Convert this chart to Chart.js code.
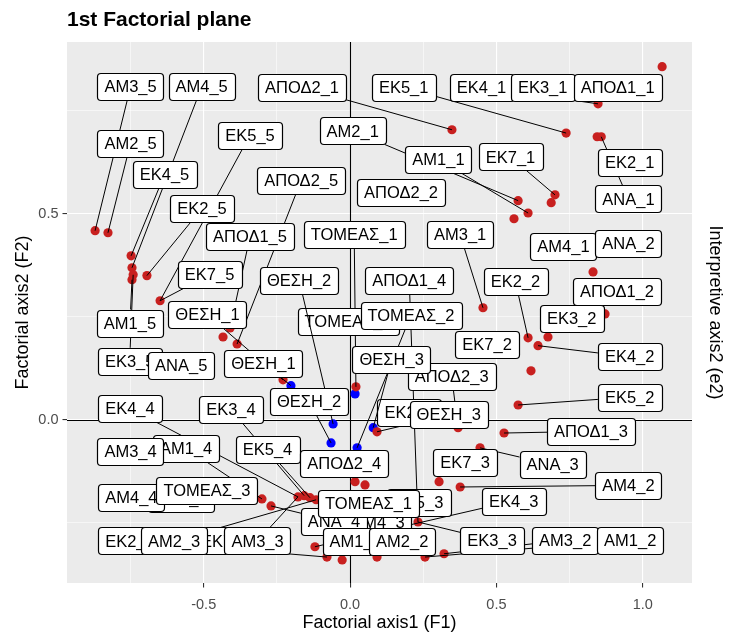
<!DOCTYPE html>
<html>
<head>
<meta charset="utf-8">
<script src="https://cdn.jsdelivr.net/npm/chart.js@4.4.0/dist/chart.umd.min.js"></script>
<style>
  html, body { margin: 0; padding: 0; background: #fff; }
</style>
</head>
<body>
<canvas id="plane" width="729" height="636"></canvas>
<script>
// factor coordinates of the categories (red = active, blue = supplementary)
const redX = [1.066, 0.847, 0.738, 0.844, 0.858, 0.700, 0.687, 0.574, 0.608, 0.560,
  0.348, -0.871, -0.827, -0.748, -0.745, -0.741, -0.745, -0.694, -0.649, -0.410,
  -0.434, -0.386, -0.229, 0.020, 0.454, 0.830, 0.871, 0.608, 0.642, 0.676,
  0.618, 0.574, 0.526, 0.092, 0.369, 0.444, 0.017, 0.051, 0.304, 0.376,
  -0.178, -0.157, -0.137, -0.116, 0.232, -0.120, -0.079, -0.027, 0.092, 0.256,
  0.321, -0.270, -0.301]
const redY = [0.857, 0.767, 0.696, 0.687, 0.687, 0.546, 0.527, 0.532, 0.502, 0.488,
  0.704, 0.459, 0.454, 0.398, 0.369, 0.352, 0.340, 0.350, 0.289, 0.223,
  0.201, 0.184, 0.097, 0.080, 0.272, 0.359, 0.257, 0.199, 0.180, 0.201,
  0.119, 0.036, -0.032, -0.029, -0.019, -0.068, -0.150, -0.158, -0.150, -0.163,
  -0.187, -0.184, -0.189, -0.194, -0.248, -0.308, -0.333, -0.340, -0.333, -0.333,
  -0.325, -0.209, -0.192]
const blueX = [-0.202, 0.017, -0.058, 0.079, -0.065, 0.024]
const blueY = [0.083, 0.063, -0.010, -0.019, -0.056, -0.068]

// repelled labels: text, label centre (data units), point it points at
const labelText = ['ΑΜ3_5', 'ΑΜ4_5', 'ΑΠΟΔ2_1', 'ΕΚ5_1', 'ΕΚ4_1', 'ΕΚ3_1', 'ΑΠΟΔ1_1',
  'ΑΜ2_5', 'ΕΚ5_5', 'ΑΜ2_1', 'ΑΜ1_1', 'ΕΚ7_1', 'ΕΚ2_1', 'ΑΝΑ_1', 'ΕΚ4_5', 'ΑΠΟΔ2_5',
  'ΑΠΟΔ2_2', 'ΕΚ2_5', 'ΑΠΟΔ1_5', 'ΑΜ3_1', 'ΑΜ4_1', 'ΑΝΑ_2', 'ΕΚ7_5', 'ΑΠΟΔ1_4',
  'ΕΚ2_2', 'ΑΠΟΔ1_2', 'ΑΜ1_5', 'ΕΚ3_2', 'ΕΚ7_2', 'ΕΚ4_2', 'ΕΚ3_5', 'ΑΝΑ_5',
  'ΑΠΟΔ2_3', 'ΕΚ5_2', 'ΕΚ4_4', 'ΕΚ3_4', 'ΕΚ2_3', 'ΑΠΟΔ1_3', 'ΑΜ1_4', 'ΑΜ3_4',
  'ΕΚ5_4', 'ΑΠΟΔ2_4', 'ΕΚ7_3', 'ΑΝΑ_3', 'ΑΜ2_4', 'ΑΜ4_4', 'ΑΜ4_2', 'ΕΚ4_3',
  'ΕΚ5_3', 'ΑΜ4_3', 'ΑΝΑ_4', 'ΕΚ2_4', 'ΕΚ7_4', 'ΑΜ2_3', 'ΑΜ3_3', 'ΑΜ1_3',
  'ΑΜ2_2', 'ΕΚ3_3', 'ΑΜ3_2', 'ΑΜ1_2',
  'ΘΕΣΗ_1', 'ΤΟΜΕΑΣ_2', 'ΤΟΜΕΑΣ_1', 'ΘΕΣΗ_3', 'ΤΟΜΕΑΣ_3', 'ΤΟΜΕΑΣ_1',
  'ΘΕΣΗ_2', 'ΤΟΜΕΑΣ_2', 'ΘΕΣΗ_1', 'ΘΕΣΗ_3', 'ΘΕΣΗ_2']
const labelX = [-0.750, -0.507, -0.164, 0.183, 0.449, 0.658, 0.914,
  -0.750, -0.342, 0.009, 0.302, 0.548, 0.955, 0.951, -0.634, -0.167,
  0.174, -0.506, -0.342, 0.376, 0.729, 0.951, -0.480, 0.202,
  0.565, 0.912, -0.752, 0.757, 0.468, 0.955, -0.753, -0.577,
  0.347, 0.955, -0.752, -0.407, 0.202, 0.823, -0.560, -0.750,
  -0.282, -0.020, 0.393, 0.692, -0.576, -0.747, 0.951, 0.559,
  0.234, 0.097, -0.055, -0.752, -0.425, -0.601, -0.316, 0.019,
  0.178, 0.485, 0.735, 0.957,
  -0.487, -0.007, 0.014, 0.337, -0.489, 0.063,
  -0.174, 0.208, -0.296, 0.142, -0.140]
const labelY = [0.808, 0.808, 0.807, 0.807, 0.807, 0.807, 0.807,
  0.671, 0.691, 0.701, 0.632, 0.638, 0.625, 0.536, 0.595, 0.581,
  0.551, 0.513, 0.444, 0.449, 0.421, 0.428, 0.352, 0.339,
  0.335, 0.311, 0.235, 0.246, 0.182, 0.153, 0.142, 0.131,
  0.106, 0.055, 0.028, 0.025, 0.018, -0.028, -0.069, -0.076,
  -0.073, -0.107, -0.103, -0.109, -0.191, -0.188, -0.159, -0.197,
  -0.201, -0.248, -0.246, -0.294, -0.294, -0.294, -0.294, -0.295,
  -0.295, -0.292, -0.292, -0.292,
  0.255, 0.239, 0.451, 0.012, -0.172, -0.203,
  0.339, 0.254, 0.137, 0.146, 0.045]
const labelPoint = ['P12', 'P15', 'P11', 'P3', 'P2', null, null,
  'P13', 'P19', 'P8', 'P9', 'P6', null, 'P5', 'P14', 'P22',
  null, 'P18', 'P20', 'P25', null, null, 'P19', 'P45',
  'P28', null, 'P17', null, null, 'P29', 'P16', null,
  'P35', 'P32', 'P41', 'P42', null, 'P33', 'P53', null,
  'P43', null, null, 'P36', null, null, 'P40', 'P46',
  null, null, 'P52', 'P47', null, 'P44', 'P41', 'P48',
  'P49', 'P45', 'P51', 'P50',
  'P23', null, 'P24', 'P34', null, null,
  'B3', 'B6', 'B1', 'B4', 'B5']

const xMajor = [-0.5, 0, 0.5, 1]
const xMinor = [-0.75, -0.25, 0.25, 0.75]
const xTickLabels = ['-0.5', '0.0', '0.5', '1.0']
const yMajor = [0, 0.5]
const yMinor = [-0.25, 0.25, 0.75]
const yTickLabels = ['0.0', '0.5']

const FONT = '"Liberation Sans", Arial, sans-serif'
const RED = '#C8201F'
const BLUE = '#0000FF'

const isIn = (arr, v) => arr.some(a => Math.abs(a - v) < 1e-9)

function targetOf(key) {
  const i = +key.slice(1) - 1
  return key[0] === 'P' ? [redX[i], redY[i]] : [blueX[i], blueY[i]]
}

const panelBg = {
  id: 'panelBg',
  beforeDraw(chart) {
    const { ctx, chartArea: a } = chart
    ctx.save()
    ctx.fillStyle = '#EBEBEB'
    ctx.fillRect(a.left, a.top, a.right - a.left, a.bottom - a.top)
    ctx.restore()
  },
  beforeDatasetsDraw(chart) {
    // reference lines through the origin
    const { ctx, chartArea: a, scales: { x, y } } = chart
    ctx.save()
    ctx.strokeStyle = '#000'
    ctx.lineWidth = 1.1
    ctx.beginPath()
    const x0 = Math.round(x.getPixelForValue(0)) + 0.5
    const y0 = Math.round(y.getPixelForValue(0)) + 0.5
    ctx.moveTo(x0, a.top); ctx.lineTo(x0, a.bottom)
    ctx.moveTo(a.left, y0); ctx.lineTo(a.right, y0)
    ctx.stroke()
    ctx.restore()
  }
}

function roundBox(ctx, x, y, w, h, r) {
  ctx.beginPath()
  ctx.moveTo(x + r, y)
  ctx.lineTo(x + w - r, y); ctx.arcTo(x + w, y, x + w, y + r, r)
  ctx.lineTo(x + w, y + h - r); ctx.arcTo(x + w, y + h, x + w - r, y + h, r)
  ctx.lineTo(x + r, y + h); ctx.arcTo(x, y + h, x, y + h - r, r)
  ctx.lineTo(x, y + r); ctx.arcTo(x, y, x + r, y, r)
  ctx.closePath()
}

const repelLabels = {
  id: 'repelLabels',
  afterDatasetsDraw(chart) {
    const { ctx, scales: { x, y } } = chart
    ctx.save()
    ctx.font = '16.5px ' + FONT
    const items = labelText.map((t, i) => {
      const w = ctx.measureText(t).width + 14
      const h = 27
      const cx = x.getPixelForValue(labelX[i])
      const cy = y.getPixelForValue(labelY[i])
      const key = labelPoint[i]
      let tp = null
      if (key) {
        const [vx, vy] = targetOf(key)
        tp = [x.getPixelForValue(vx), y.getPixelForValue(vy)]
      }
      return { t, w, h, cx, cy, tp, layer: key && key[0] === 'B' ? 1 : 0 }
    })
    ;[0, 1].forEach(layer => {
      const ls = items.filter(it => it.layer === layer)
      // segments first
      ctx.strokeStyle = '#000'
      ctx.lineWidth = 1
      ls.forEach(it => {
        if (!it.tp) return
        const dx = it.tp[0] - it.cx, dy = it.tp[1] - it.cy
        const tx = dx !== 0 ? (it.w / 2) / Math.abs(dx) : Infinity
        const ty = dy !== 0 ? (it.h / 2) / Math.abs(dy) : Infinity
        const s = Math.min(tx, ty)
        if (s >= 1) return
        const len = (1 - s) * Math.hypot(dx, dy)
        if (len < 7) return
        ctx.beginPath()
        ctx.moveTo(it.cx + s * dx, it.cy + s * dy)
        ctx.lineTo(it.tp[0], it.tp[1])
        ctx.stroke()
      })
      // then the boxes
      ls.forEach(it => {
        const bx = Math.round(it.cx - it.w / 2) + 0.5
        const by = Math.round(it.cy - it.h / 2) + 0.5
        roundBox(ctx, bx, by, Math.round(it.w), it.h, 3.5)
        ctx.fillStyle = '#fff'
        ctx.fill()
        ctx.lineWidth = 1.2
        ctx.strokeStyle = '#000'
        ctx.stroke()
        ctx.fillStyle = '#000'
        ctx.textAlign = 'center'
        ctx.textBaseline = 'middle'
        ctx.fillText(it.t, it.cx, it.cy + 1)
      })
    })
    ctx.restore()
  }
}

const gridOpts = major => ({
  color: '#FFFFFF',
  lineWidth: c => isIn(major, c.tick.value) ? 1.1 : 0.55,
  tickColor: c => isIn(major, c.tick.value) ? '#333333' : 'rgba(0,0,0,0)',
  tickWidth: 1.1,
  tickLength: 4.5
})

const chart = new Chart(document.getElementById('plane'), {
  type: 'scatter',
  data: {
    datasets: [{
      data: redX.map((v, i) => ({ x: v, y: redY[i] })),
      backgroundColor: RED,
      pointRadius: 4.6,
      pointBorderWidth: 0
    }, {
      data: blueX.map((v, i) => ({ x: v, y: blueY[i] })),
      backgroundColor: BLUE,
      pointRadius: 4.6,
      pointBorderWidth: 0
    }]
  },
  options: {
    responsive: false,
    animation: false,
    devicePixelRatio: 1,
    layout: { padding: 0 },
    plugins: {
      legend: { display: false },
      tooltip: { enabled: false },
      title: {
        display: true,
        text: '1st Factorial plane',
        align: 'start',
        fullSize: false,
        color: '#000',
        font: { family: FONT, size: 21, weight: 'bold' },
        padding: { top: 8, bottom: 8.8 }
      }
    },
    scales: {
      x: {
        type: 'linear',
        min: -0.967,
        max: 1.168,
        afterBuildTicks: s => { s.ticks = [...xMinor, ...xMajor].sort((a, b) => a - b).map(v => ({ value: v })) },
        afterFit: s => { s.height = 53 },
        ticks: {
          autoSkip: false,
          maxRotation: 0,
          color: '#4D4D4D',
          font: { family: FONT, size: 14.5 },
          padding: 9,
          callback: v => { const i = xMajor.findIndex(m => Math.abs(m - v) < 1e-9); return i >= 0 ? xTickLabels[i] : '' }
        },
        grid: gridOpts(xMajor),
        border: { display: false },
        title: {
          display: true,
          text: 'Factorial axis1 (F1)',
          color: '#000',
          font: { family: FONT, size: 18 },
          padding: { top: 0, bottom: 2 }
        }
      },
      y: {
        type: 'linear',
        position: 'left',
        min: -0.396,
        max: 0.917,
        afterBuildTicks: s => { s.ticks = [...yMinor, ...yMajor].sort((a, b) => a - b).map(v => ({ value: v })) },
        afterFit: s => { s.width = 67 },
        ticks: {
          autoSkip: false,
          color: '#4D4D4D',
          font: { family: FONT, size: 14.5 },
          padding: 4,
          callback: v => { const i = yMajor.findIndex(m => Math.abs(m - v) < 1e-9); return i >= 0 ? yTickLabels[i] : '' }
        },
        grid: gridOpts(yMajor),
        border: { display: false },
        title: {
          display: true,
          text: 'Factorial axis2 (F2)',
          color: '#000',
          font: { family: FONT, size: 18 },
          padding: { top: 12, bottom: 0 }
        }
      },
      y2: {
        type: 'linear',
        position: 'right',
        min: -0.396,
        max: 0.917,
        afterFit: s => { s.width = 37 },
        grid: { display: false },
        ticks: { display: false },
        border: { display: false },
        title: {
          display: true,
          text: 'Interpretive axis2 (e2)',
          color: '#000',
          font: { family: FONT, size: 18 },
          padding: { top: 3, bottom: 0 }
        }
      }
    }
  },
  plugins: [panelBg, repelLabels]
})
</script>
</body>
</html>
